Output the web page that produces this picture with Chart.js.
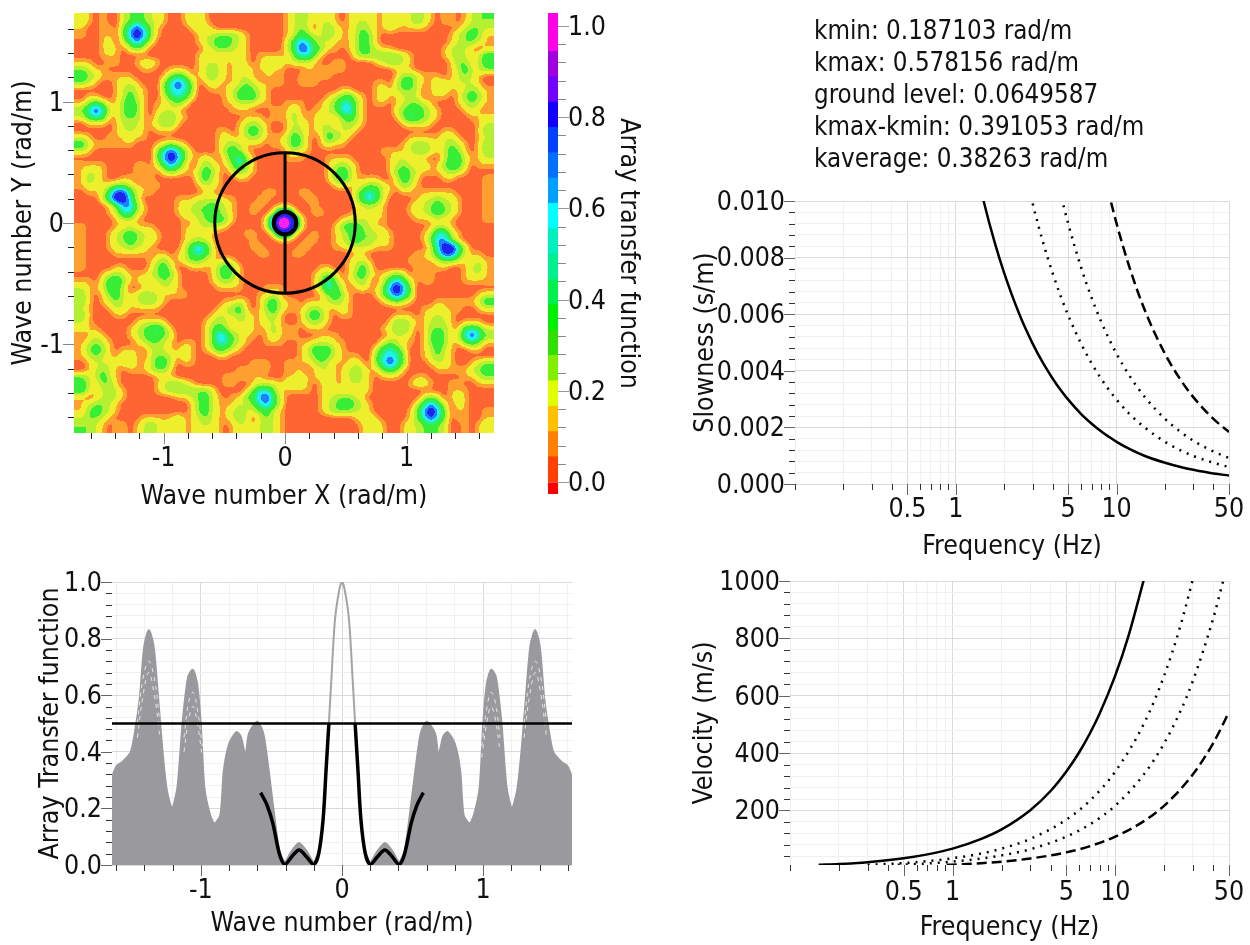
<!DOCTYPE html>
<html>
<head>
<meta charset="utf-8">
<title>Array response</title>
<script src="https://cdn.jsdelivr.net/npm/chart.js@4/dist/chart.umd.js"></script>
<style>
body { margin:0; background:#fff; width:1250px; height:945px; overflow:hidden; position:relative; }
canvas.layer { position:absolute; left:0; top:0; }
#heatBox { position:absolute; left:74px; top:13px; width:420px; height:420px; overflow:hidden; }
#heat { position:absolute; left:-14px; top:-14px; background:#000; filter:url(#contour); }
#info { position:absolute; left:814px; top:14px; font:25.7px/32px "DejaVu Sans Condensed","DejaVu Sans"; color:#111; white-space:nowrap; }
</style>
</head>
<body>
<svg width="0" height="0" style="position:absolute">
  <filter id="contour" x="0" y="0" width="1" height="1" color-interpolation-filters="sRGB">
    <feGaussianBlur stdDeviation="3.2"/>
    <feComponentTransfer>
      <feFuncR id="fr" type="discrete"/>
      <feFuncG id="fg" type="discrete"/>
      <feFuncB id="fb" type="discrete"/>
    </feComponentTransfer>
  </filter>
</svg>
<div id="heatBox"><canvas id="heat" width="448" height="448"></canvas></div>
<canvas class="layer" id="c1" width="1250" height="945"></canvas>
<canvas class="layer" id="c2" width="1250" height="945"></canvas>
<canvas class="layer" id="c3" width="1250" height="945"></canvas>
<canvas class="layer" id="c4" width="1250" height="945"></canvas>
<canvas class="layer" id="c5" width="1250" height="945"></canvas>
<div id="info">kmin: 0.187103 rad/m<br>kmax: 0.578156 rad/m<br>ground level: 0.0649587<br>kmax-kmin: 0.391053 rad/m<br>kaverage: 0.38263 rad/m</div>
<script>
// ---- data ----
// map levels per cell, top row first (0 orange .. A magenta), 60 cells a row
const heatRows = [
"210100234 3221001221 00000000000 1232122101 2221122123 2101101233",
"100110357 5310000122 10000000000 1232023211 2321121111 1000012332",
"100110368 6310000012 23332100000 1243223211 2431000000 0000123431",
"000120246 4200000012 34432100000 2465322111 2431000000 0000123321",
"000121023 2000000001 23322100000 2476431101 2432110000 0001232101",
"000111000 0000000012 11122101111 1355310000 2333333210 0001232124",
"110011001 2210000012 22112101222 1222100110 0001233210 0000133124",
"321100000 1100111012 32112211211 0001111110 0000001110 0000124223",
"432111110 0001343112 32112210111 0011111000 0000001332 1110123210",
"321001221 0003575301 21112321111 0011100000 0001102442 1122122210",
"000001232 1003565300 11123432100 0000000011 0001212332 0122112321",
"011001242 1002454200 00124442100 0000001234 2101211222 0111013431",
"134311343 1011232000 00112221100 1110012355 3101101233 2100012321",
"357521343 1012210000 00011100011 1210112356 3100002344 3210001210",
"245411333 1023321000 00000111011 1311122134 3100001354 3210000112",
"011101232 1123310000 00001232100 1221122123 2100000122 2100000012",
"000001222 1011100000 01101343100 1321123222 1000000000 0001100013",
"210011121 1000000000 01211232111 2431014321 0000000011 1112210012",
"421111110 0012321000 01232111011 2431012110 0000000123 3212321013",
"210000000 0035753100 01343100000 1211000000 0000111123 3212431013",
"000000000 0036863112 10245310000 1110001111 0000012211 1002442112",
"111100001 1024642013 21135310000 0000001232 1000012321 2113442011",
"122100001 1102321124 31023210000 0000001343 1000013432 1112321000",
"132100110 1100000024 21001100000 0000001343 1111002431 0001100001",
"121123321 11100000122 1000000000 0000000121 1233211321 0000000001",
"011247742 11000000011 0000000110 0011000000 2454210110 1111100001",
"000258852 00000111222 2110001100 0001100000 2464200001 2232210001",
"0000136631 0000122334 3210011001 1000100000 1222100012 2343210001",
"0000125521 0000122334 3210010027 7200110000 1222100012 2343210001",
"0000012210 0000011234 431000027A A720000012 2221100001 1121100001",
"1000011211 1000011222 210000027A A720000134 4321100000 0122100000",
"1000123432 2100012221 0000110027 7200100123 4332210000 1255210000",
"1000123432 2100012221 0000010001 1001100123 4332210000 1366310000",
"1000122322 1000024642 0000011000 0011000112 22211100000 258852000",
"1000011111 0110124542 0000001100 0110000000 11000000011 247742110",
"1000000000 1231123321 1210000000 0000000001 22100000111 123321121",
"1000011000 1342001111 3431000000 00000110012 4200000011 011001231",
"0001232111 2343100001 3431000000 00001232013 4211232011 100001221",
"1102443112 1232100001 2321000000 00001353112 3102464201 100001111",
"2112442001 1122100000 1111000111 00001354201 2113686300 000000000",
"3101342123 3211110000 0000001121 00000134310 0013575300 000000012",
"3101232123 3210000000 0112101342 11011123210 0001232100 011111124",
"2100122111 1100000000 1234101342 11123211210 0000000001 121110012",
"3100011000 0000000001 2223211231 00134310110 0000011101 222100000",
"2100000012 2210000012 3212211221 00123210000 0000133211 232101110",
"2110000123 4531000013 4312211131 11011100000 0001233201 333114542",
"0121000123 4432000013 6532110121 11000111000 0000122101 343125753",
"1232100012 3321011013 5532100111 00112221100 0002321101 343113431",
"1343101110 2221121012 4321000000 00124442100 0024542001 242100110",
"1232112210 2332121000 1100000000 00123432111 0035653001 232100000",
"0122212211 2442011000 0000011100 11112321112 1035753000 122100123",
"0123210111 2331000000 0001111100 11101221123 2113431000 011111234",
"3224210000 0111000000 0111111000 11211221123 2101110011 000001123",
"4213310000 0123321000 0110012221 22210121122 2100000122 100110011",
"4212321000 0123333332 0000135531 11110122111 2100000000 000111000",
"1012321000 0000112342 1011346742 00000122332 1000000002 320121000",
"1233210000 0000001342 1112235642 00000123443 2100000024 642021000",
"1343210000 0000001342 1123223421 00000123332 2100000136 863011001",
"2332100001 1111211232 1123202321 00000000001 2210000135 753011001",
"3321011012 3212211222 1012212321 00000000000 1221001223 432001012"
];
// contour bands: colour and the level where it starts
const contourColors = ["#ff6533","#ff9f30","#eef02e","#b4f032","#38f038","#22f0a0","#22f0f0","#2080ff","#2024f0","#8020f0","#ff20f0"];
const contourStops = [0, 0.5, 1.1, 2.1, 3.0, 4.3, 5.0, 5.8, 6.6, 8.6, 9.2];
const kXRange = [-1.737, 1.72];
const kYRange = [-1.73, 1.73];
const kmaxCircle = 0.578156;
const kminCircle = 0.0935;

// colour bar bands, bottom to top
const bandLow  = [-0.026, 0, 0.0556, 0.1111, 0.1667, 0.2222, 0.2778, 0.3333, 0.3889, 0.4444, 0.5, 0.5556, 0.6111, 0.6667, 0.7222, 0.7778, 0.8333, 0.8889, 0.9444];
const bandHigh = [0, 0.0556, 0.1111, 0.1667, 0.2222, 0.2778, 0.3333, 0.3889, 0.4444, 0.5, 0.5556, 0.6111, 0.6667, 0.7222, 0.7778, 0.8333, 0.8889, 0.9444, 1.0285];
const bandColors = ["#ff0000","#ff4000","#ff8000","#ffc000","#e0ff00","#80f000","#30e000","#00f000","#00f050","#00f090","#00f0c0","#00ffff","#00a0ff","#0070ff","#0040ff","#1000ff","#7000ff","#a000e0","#ff00e8"];

// array transfer function, grey lobes and the thick black part
const lobeLeftK = [-1.63,-1.597,-1.554,-1.496,-1.458,-1.432,-1.402,-1.369,-1.336,-1.311,-1.275,-1.242,-1.204,-1.166,-1.128,-1.09,-1.057,-1.027,-1.001,-0.976,-0.938,-0.905,-0.862,-0.837,-0.799,-0.748,-0.717,-0.684,-0.659,-0.601,-0.558,-0.52,-0.482,-0.444,-0.405];
const lobeLeftV = [0.31,0.35,0.365,0.40,0.50,0.594,0.77,0.83,0.776,0.641,0.418,0.265,0.2,0.276,0.512,0.665,0.69,0.641,0.5,0.276,0.182,0.147,0.176,0.335,0.429,0.47,0.453,0.388,0.465,0.506,0.465,0.335,0.182,0.05,0.005];
const lobeRightK = [0.405,0.444,0.482,0.52,0.558,0.601,0.659,0.684,0.717,0.748,0.799,0.837,0.862,0.905,0.938,0.976,1.001,1.027,1.057,1.09,1.128,1.166,1.204,1.242,1.275,1.311,1.336,1.369,1.402,1.432,1.458,1.496,1.554,1.597,1.63];
const lobeRightV = [0.005,0.05,0.182,0.335,0.465,0.506,0.465,0.388,0.453,0.47,0.429,0.335,0.176,0.147,0.182,0.276,0.5,0.641,0.69,0.665,0.512,0.276,0.2,0.265,0.418,0.641,0.776,0.83,0.77,0.594,0.50,0.40,0.365,0.35,0.31];
const humpLeftK = [-0.405,-0.355,-0.304,-0.253,-0.2];
const humpRightK = [0.2,0.253,0.304,0.355,0.405];
const humpV = [0.005,0.05,0.078,0.05,0.005];
const peakK = [-0.2,-0.165,-0.134,-0.113,-0.093,-0.076,-0.05,-0.02,0,0.02,0.05,0.076,0.093,0.113,0.134,0.165,0.2];
const peakV = [0.005,0.05,0.16,0.335,0.5,0.65,0.865,0.97,1,0.97,0.865,0.65,0.5,0.335,0.16,0.05,0.005];
const blackLeftK = [-0.578,-0.57,-0.53,-0.49,-0.444,-0.405,-0.355,-0.304,-0.253,-0.2,-0.165,-0.134,-0.113,-0.093];
const blackLeftV = [0.255,0.25,0.21,0.147,0.04,0.002,0.03,0.053,0.03,0.002,0.04,0.16,0.335,0.5];
const blackRightK = [0.093,0.113,0.134,0.165,0.2,0.253,0.304,0.355,0.405,0.444,0.49,0.53,0.57,0.578];
const blackRightV = [0.5,0.335,0.16,0.04,0.002,0.03,0.053,0.03,0.002,0.04,0.147,0.21,0.25,0.255];
const groundK = [-1.63, 1.63];
const groundV = [0.5, 0.5];
// pale gaps between the grey curves near the side lobes
const gapK1 = [-1.45,-1.41,-1.37,-1.33,-1.29];
const gapK1R = [1.29,1.33,1.37,1.41,1.45];
const gapK2 = [-1.12,-1.085,-1.055,-1.025,-0.99];
const gapK2R = [0.99,1.025,1.055,1.085,1.12];
const gapV1 = [0.50,0.66,0.72,0.66,0.50];
const gapV2 = [0.45,0.60,0.68,0.60,0.45];
const gapV3 = [0.45,0.58,0.61,0.55,0.42];
const gapV4 = [0.40,0.52,0.56,0.50,0.38];
const gapV3R = [0.42,0.55,0.61,0.58,0.45];
const gapV4R = [0.38,0.50,0.56,0.52,0.40];

// slowness curves
const sFreq = [1,1.25,1.5,1.75,2,2.5,3,3.5,4,4.5,5,6,7,8,9,10,12,15,20,25,30,40,50];
const sSolid = [0.0149,0.0119,0.00993,0.00851,0.00745,0.00596,0.00497,0.00426,0.00373,0.00331,0.00298,0.00248,0.00213,0.00186,0.00166,0.00149,0.00124,0.00099,0.00075,0.0006,0.0005,0.00037,0.0003];
const sDot1 = [null,null,null,null,0.0149,0.01192,0.00993,0.00851,0.00745,0.00662,0.00596,0.00497,0.00426,0.00373,0.00331,0.00298,0.00248,0.00199,0.00149,0.00119,0.00099,0.00075,0.0006];
const sDot2 = [null,null,null,null,null,null,null,null,0.0115,0.01022,0.0092,0.00767,0.00657,0.00575,0.00511,0.0046,0.00383,0.00307,0.0023,0.00184,0.00153,0.00115,0.00092];
const sDash = [null,null,null,null,null,null,null,null,null,null,null,null,null,0.0115,0.01022,0.0092,0.00767,0.00613,0.0046,0.00368,0.00307,0.0023,0.00184];

// velocity curves
const vFreqSolid = [0.15,0.2,0.3,0.5,0.7,1,1.5,2,3,4,5,6,7,8,10,12,15];
const vSolid = [10.5,13.4,20,33.5,47,67,101,134,201,268,336,403,470,537,671,805,1006];
const vFreqDot1 = [0.3,0.5,0.7,1,1.5,2,3,5,7,10,15,20,25,30];
const vDot1 = [10.5,16.8,23.5,33.6,50,67,101,168,235,336,503,671,839,1006];
const vFreqDot2 = [0.46,0.7,1,1.5,2,3,5,7,10,15,20,25,30,40,46];
const vDot2 = [10.5,15.2,21.7,32.6,43.5,65,109,152,217,326,435,543,652,870,1000];
const vFreqDash = [0.92,1,1.5,2,3,5,7,10,15,20,30,40,50];
const vDash = [10.5,10.9,16.3,21.7,32.6,54,76,109,163,217,326,435,543];

// axis ticks
const mapMajor = [-1,0,1];
const mapLabels = ["-1","0","1"];
const mapMinor = [-1.6,-1.4,-1.2,-0.8,-0.6,-0.4,-0.2,0.2,0.4,0.6,0.8,1.2,1.4,1.6];
const barMajor = [0,0.2,0.4,0.6,0.8,1];
const barLabels = ["0.0","0.2","0.4","0.6","0.8","1.0"];
const barMinor = [0.04,0.08,0.12,0.16,0.24,0.28,0.32,0.36,0.44,0.48,0.52,0.56,0.64,0.68,0.72,0.76,0.84,0.88,0.92,0.96];
const freqMajor = [0.5,1,5,10,50];
const freqLabels = ["0.5","1","5","10","50"];
const freqMinor = [0.1,0.2,0.3,0.4,0.6,0.7,0.8,0.9,2,3,4,6,7,8,9,20,30,40];
const slowMajor = [0,0.002,0.004,0.006,0.008,0.01];
const slowLabels = ["0.000","0.002","0.004","0.006","0.008","0.010"];
const slowMinor = [0.0004,0.0008,0.0012,0.0016,0.0024,0.0028,0.0032,0.0036,0.0044,0.0048,0.0052,0.0056,0.0064,0.0068,0.0072,0.0076,0.0084,0.0088,0.0092,0.0096];
const velMajor = [200,400,600,800,1000];
const velLabels = ["200","400","600","800","1000"];
const velMinor = [40,80,120,160,240,280,320,360,440,480,520,560,640,680,720,760,840,880,920,960];

// ---- drawing ----
Chart.defaults.animation = false;
Chart.defaults.responsive = false;
Chart.defaults.plugins.legend.display = false;
Chart.defaults.plugins.tooltip.enabled = false;
const FONT = "'DejaVu Sans Condensed','DejaVu Sans'";
const FS = 26.5;

function pts(xs, ys) { return xs.map((x, i) => ({ x: x, y: ys[i] })); }
function isIn(list, v) { return list.some(m => Math.abs(m - v) < 1e-7 * Math.max(1, Math.abs(m))); }

// the heat canvas holds grey levels, the svg filter smooths them and paints the bands
function hexPart(h, i) { return parseInt(h.substr(1 + 2 * i, 2), 16) / 255; }
['fr', 'fg', 'fb'].forEach((id, ch) => {
  const table = [];
  for (let g = 0; g < 256; g++) {
    const lvl = g / 25.5;
    let b = 0;
    contourStops.forEach((s, i) => { if (lvl >= s) b = i; });
    table.push(hexPart(contourColors[b], ch).toFixed(3));
  }
  document.getElementById(id).setAttribute('tableValues', table.join(' '));
});

// short ticks for the minor values, longer grey ones for the labelled ones
const tickMarks = {
  id: 'tickMarks',
  afterDraw(chart) {
    const c = chart.ctx;
    Object.values(chart.scales).forEach(s => {
      if (!s.options.display || !s.options.marks) return;
      const m = s.options.marks;
      s.ticks.forEach(t => {
        const major = isIn(m.major, t.value);
        const len = major ? m.majorLen : m.minorLen;
        const p = s.getPixelForValue(t.value);
        c.beginPath();
        c.strokeStyle = major ? m.majorColor : m.minorColor;
        c.lineWidth = 1;
        if (s.axis === 'x') {
          c.moveTo(Math.round(p) + 0.5, s.top);
          c.lineTo(Math.round(p) + 0.5, s.top + len);
        } else if (s.position === 'right') {
          c.moveTo(s.left, Math.round(p) + 0.5);
          c.lineTo(s.left + len, Math.round(p) + 0.5);
        } else {
          c.moveTo(s.right, Math.round(p) + 0.5);
          c.lineTo(s.right - len, Math.round(p) + 0.5);
        }
        c.stroke();
      });
    });
  }
};

function axis(o) {
  const vertical = o.position === 'left' || o.position === 'right';
  return {
    type: o.type || 'linear',
    position: o.position,
    min: o.min,
    max: o.max,
    marks: { major: o.major, majorLen: o.majorLen || 11, minorLen: o.minorLen || 6, majorColor: o.majorColor || '#666', minorColor: o.minorColor || '#333' },
    afterBuildTicks: s => { s.ticks = o.major.concat(o.minor).sort((a, b) => a - b).map(v => ({ value: v })); },
    afterFit: s => {
      if (s.axis === 'x') s.height = o.size; else s.width = o.size;
      s.paddingLeft = s.paddingRight = s.paddingTop = s.paddingBottom = 0;
    },
    ticks: {
      autoSkip: false, maxRotation: 0, minRotation: 0, padding: o.tickPad === undefined ? 2 : o.tickPad,
      labelOffset: vertical ? 2 : 0,
      color: '#111', font: { family: FONT, size: FS },
      callback: v => { const i = o.major.findIndex(m => Math.abs(m - v) < 1e-7 * Math.max(1, Math.abs(m))); return i < 0 ? '' : o.labels[i]; }
    },
    grid: {
      drawOnChartArea: !!o.grid, tickLength: 8, tickColor: 'transparent',
      color: c => (c.tick && isIn(o.major, c.tick.value)) ? '#dadada' : '#f0f0f0'
    },
    border: { display: false },
    title: { display: true, text: o.title, color: '#111', font: { family: FONT, size: FS }, padding: 0 }
  };
}

// heat map cells, two extra cells around so the smoothing has no edge
const heatData = {};
const cleanRows = heatRows.map(r => r.replace(/ /g, ''));
const cellW = (kXRange[1] - kXRange[0]) / 60, cellH = (kYRange[1] - kYRange[0]) / 60;
for (let r = -2; r < 62; r++) {
  for (let c = -2; c < 62; c++) {
    const row = cleanRows[Math.min(59, Math.max(0, r))];
    const lvl = row[Math.min(59, Math.max(0, c))];
    (heatData[lvl] = heatData[lvl] || []).push({ x: kXRange[0] + (c + 0.5) * cellW, y: kYRange[1] - (r + 0.5) * cellH });
  }
}
function greyFor(l) { const g = Math.round(parseInt(l, 16) * 25.5); return 'rgb(' + g + ',' + g + ',' + g + ')'; }
new Chart(document.getElementById('heat'), {
  type: 'scatter',
  data: { datasets: Object.keys(heatData).map(l => ({ data: heatData[l], pointStyle: 'rect', pointRadius: 5.3, pointBorderWidth: 0, pointBackgroundColor: greyFor(l), order: -parseInt(l, 16) })) },
  options: { layout: { padding: 0 }, scales: {
    x: { display: false, min: kXRange[0] - 2 * cellW, max: kXRange[1] + 2 * cellW },
    y: { display: false, min: kYRange[0] - 2 * cellH, max: kYRange[1] + 2 * cellH } } }
});

// map overlay: axes and the black circles
function circleRadius(k) { return c => { const s = c.chart.scales.x; return s.getPixelForValue(k) - s.getPixelForValue(0); }; }
new Chart(document.getElementById('c1'), {
  type: 'scatter',
  data: { datasets: [
    { data: [{ x: 0, y: 0 }], pointRadius: circleRadius(kmaxCircle), pointBorderWidth: 3, pointBorderColor: '#000', pointBackgroundColor: 'transparent' },
    { data: [{ x: 0, y: 0 }], pointRadius: circleRadius(kminCircle), pointBorderWidth: 4, pointBorderColor: '#000', pointBackgroundColor: 'transparent' },
    { data: pts([0, 0], [kminCircle, kmaxCircle]), showLine: true, borderColor: '#000', borderWidth: 3, pointRadius: 0 },
    { data: pts([0, 0], [-kminCircle, -kmaxCircle]), showLine: true, borderColor: '#000', borderWidth: 3, pointRadius: 0 }
  ] },
  options: {
    layout: { padding: { left: 8, top: 13, right: 756, bottom: 432 } },
    scales: {
      x: axis({ position: 'bottom', min: kXRange[0], max: kXRange[1], major: mapMajor, minor: mapMinor, labels: mapLabels, size: 80, title: 'Wave number X (rad/m)', minorColor: '#222', majorColor: '#888' }),
      y: axis({ position: 'left', min: kYRange[0], max: kYRange[1], major: mapMajor, minor: mapMinor, labels: mapLabels, size: 66, title: 'Wave number Y (rad/m)', minorColor: '#222', majorColor: '#888' })
    }
  },
  plugins: [tickMarks]
});

// colour bar
new Chart(document.getElementById('c2'), {
  type: 'bar',
  data: { labels: ['bar'], datasets: bandLow.map((lo, i) => ({ data: [[lo, bandHigh[i]]], backgroundColor: bandColors[i], barPercentage: 1, categoryPercentage: 1, borderSkipped: false })) },
  options: {
    datasets: { bar: { grouped: false } },
    layout: { padding: { left: 548, top: 13, right: 606, bottom: 451 } },
    scales: {
      x: { display: false },
      y: axis({ position: 'right', min: -0.026, max: 1.0285, major: barMajor, minor: barMinor, labels: barLabels, size: 86, title: 'Array transfer function', majorLen: 11, minorLen: 8, majorColor: '#999', minorColor: '#888' })
    }
  },
  plugins: [tickMarks]
});

// transfer function lines
const gapStyle = { showLine: true, borderColor: 'rgba(255,255,255,0.75)', borderWidth: 1, borderDash: [4, 5], pointRadius: 0, tension: 0.4 };
const greyFill = { showLine: true, borderColor: '#9a9a9e', borderWidth: 2, backgroundColor: '#9a9a9e', fill: 'origin', pointRadius: 0, tension: 0.25 };
new Chart(document.getElementById('c3'), {
  type: 'scatter',
  data: { datasets: [
    { data: pts(groundK, groundV), showLine: true, borderColor: '#000', borderWidth: 2.5, pointRadius: 0 },
    { data: pts(blackLeftK, blackLeftV), showLine: true, borderColor: '#000', borderWidth: 3.5, pointRadius: 0, tension: 0.3 },
    { data: pts(blackRightK, blackRightV), showLine: true, borderColor: '#000', borderWidth: 3.5, pointRadius: 0, tension: 0.3 },
    Object.assign({ data: pts(gapK1, gapV1) }, gapStyle),
    Object.assign({ data: pts(gapK1, gapV2) }, gapStyle),
    Object.assign({ data: pts(gapK1R, gapV1) }, gapStyle),
    Object.assign({ data: pts(gapK1R, gapV2) }, gapStyle),
    Object.assign({ data: pts(gapK2, gapV3) }, gapStyle),
    Object.assign({ data: pts(gapK2, gapV4) }, gapStyle),
    Object.assign({ data: pts(gapK2R, gapV3R) }, gapStyle),
    Object.assign({ data: pts(gapK2R, gapV4R) }, gapStyle),
    { data: pts(peakK, peakV), showLine: true, borderColor: '#a4a4a8', borderWidth: 2, pointRadius: 0, tension: 0.3 },
    Object.assign({ data: pts(lobeLeftK, lobeLeftV) }, greyFill),
    Object.assign({ data: pts(lobeRightK, lobeRightV) }, greyFill),
    Object.assign({ data: pts(humpLeftK, humpV) }, greyFill),
    Object.assign({ data: pts(humpRightK, humpV) }, greyFill)
  ] },
  options: {
    layout: { padding: { left: 35, top: 582, right: 678, bottom: 5 } },
    scales: {
      x: axis({ position: 'bottom', min: -1.63, max: 1.63, major: mapMajor, minor: mapMinor, labels: mapLabels, size: 75, title: 'Wave number (rad/m)', grid: true }),
      y: axis({ position: 'left', min: 0, max: 1, major: barMajor, minor: barMinor, labels: barLabels, size: 77, title: 'Array Transfer function', grid: true })
    }
  },
  plugins: [tickMarks]
});

// slowness
new Chart(document.getElementById('c4'), {
  type: 'scatter',
  data: { datasets: [
    { data: pts(sFreq, sSolid), showLine: true, borderColor: '#000', borderWidth: 2.5, pointRadius: 0, cubicInterpolationMode: 'monotone' },
    { data: pts(sFreq, sDot1), showLine: true, borderColor: '#000', borderWidth: 2.5, borderDash: [2, 6], pointRadius: 0, cubicInterpolationMode: 'monotone' },
    { data: pts(sFreq, sDot2), showLine: true, borderColor: '#000', borderWidth: 2.5, borderDash: [2, 6], pointRadius: 0, cubicInterpolationMode: 'monotone' },
    { data: pts(sFreq, sDash), showLine: true, borderColor: '#000', borderWidth: 2.5, borderDash: [10, 5], pointRadius: 0, cubicInterpolationMode: 'monotone' }
  ] },
  options: {
    layout: { padding: { left: 690, top: 201, right: 21, bottom: 382 } },
    scales: {
      x: axis({ type: 'logarithmic', position: 'bottom', min: 0.1, max: 50, major: freqMajor, minor: freqMinor, labels: freqLabels, size: 79, title: 'Frequency (Hz)', grid: true }),
      y: axis({ position: 'left', min: 0, max: 0.01, major: slowMajor, minor: slowMinor, labels: slowLabels, size: 105, title: 'Slowness (s/m)', grid: true })
    }
  },
  plugins: [tickMarks]
});

// velocity
new Chart(document.getElementById('c5'), {
  type: 'scatter',
  data: { datasets: [
    { data: pts(vFreqSolid, vSolid), showLine: true, borderColor: '#000', borderWidth: 2.5, pointRadius: 0, cubicInterpolationMode: 'monotone' },
    { data: pts(vFreqDot1, vDot1), showLine: true, borderColor: '#000', borderWidth: 2.5, borderDash: [2, 6], pointRadius: 0, cubicInterpolationMode: 'monotone' },
    { data: pts(vFreqDot2, vDot2), showLine: true, borderColor: '#000', borderWidth: 2.5, borderDash: [2, 6], pointRadius: 0, cubicInterpolationMode: 'monotone' },
    { data: pts(vFreqDash, vDash), showLine: true, borderColor: '#000', borderWidth: 2.5, borderDash: [10, 5], pointRadius: 0, cubicInterpolationMode: 'monotone' }
  ] },
  options: {
    layout: { padding: { left: 689, top: 581, right: 21, bottom: 1 } },
    scales: {
      x: axis({ type: 'logarithmic', position: 'bottom', min: 0.1, max: 50, major: freqMajor, minor: freqMinor, labels: freqLabels, size: 79, title: 'Frequency (Hz)', grid: true, tickPad: 4 }),
      y: axis({ position: 'left', min: 10, max: 1000, major: velMajor, minor: velMinor, labels: velLabels, size: 101, title: 'Velocity (m/s)', grid: true })
    }
  },
  plugins: [tickMarks]
});
</script>
</body>
</html>
